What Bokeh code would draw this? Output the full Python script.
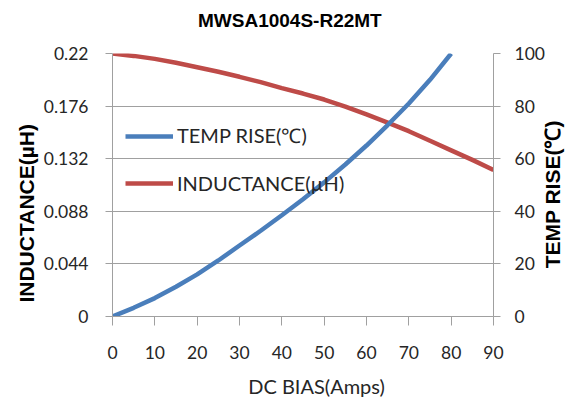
import math
from bokeh.plotting import figure
from bokeh.models import (Range1d, LinearAxis, FixedTicker, CustomJSTickFormatter,
                          Legend, LegendItem)
from bokeh.embed import file_html
from bokeh.resources import INLINE

# ---- data ----
bias_temp = [0, 5, 10, 15, 20, 25, 30, 35, 40, 45, 50, 55, 60, 65, 70, 75, 80]
temp_rise = [0, 3.3, 7, 11.3, 16, 21.3, 27, 32.6, 38.5, 44.6, 51, 57.8, 65, 72.8, 81, 90, 100]

bias_ind = [0, 5, 10, 15, 20, 25, 30, 35, 40, 45, 50, 55, 60, 65, 70, 75, 80, 85, 90]
inductance = [0.220, 0.2180, 0.2155, 0.2122, 0.2085, 0.2047, 0.2005, 0.196, 0.191,
              0.1865, 0.1815, 0.1755, 0.169, 0.1622, 0.155, 0.147, 0.139, 0.131, 0.1225]

bias_ticks = [0, 10, 20, 30, 40, 50, 60, 70, 80, 90]
ind_ticks = [0, 0.044, 0.088, 0.132, 0.176, 0.22]
temp_ticks = [0, 20, 40, 60, 80, 100]

title_text = "MWSA1004S-R22MT"
x_title = "DC  BIAS(Amps)"
left_title = "INDUCTANCE(µH)"
right_title = "TEMP RISE(℃)"
temp_label = "TEMP RISE(℃)"
ind_label = "INDUCTANCE(µH)"

# where the titles sit along their axes (layout anchors, as in the reference)
title_at = 41.9
x_title_at = 48.8
left_title_at = 0.161
right_title_at = 18.3

BLUE = "#4a7ebb"
RED = "#be4b48"
GRID = "#a0a0a0"
TXT = "#262626"
TICKFONT = "Lato"
BOLDFONT = "Liberation Sans"

p = figure(width=578, height=402, output_backend="svg", toolbar_location=None,
           x_range=Range1d(0, 90), y_range=Range1d(0, 0.22),
           min_border_left=112, min_border_right=85, min_border_top=53,
           min_border_bottom=86)
p.outline_line_color = None
p.background_fill_color = "white"
p.border_fill_color = "white"

p.extra_y_ranges = {"temp": Range1d(0, 100)}

# grids
p.xgrid.visible = False
p.ygrid.ticker = FixedTicker(ticks=ind_ticks)
p.ygrid.grid_line_color = GRID
p.ygrid.grid_line_width = 1

def style_axis(ax):
    ax.axis_line_color = GRID
    ax.major_tick_line_color = GRID
    ax.minor_tick_line_color = None
    ax.major_tick_in = 0
    ax.major_tick_out = 7
    ax.major_label_text_font = TICKFONT
    ax.major_label_text_font_size = "17.5px"
    ax.major_label_text_color = TXT

# x axis
xa = p.xaxis[0]
style_axis(xa)
xa.ticker = FixedTicker(ticks=bias_ticks)
xa.major_tick_out = 9
xa.major_label_standoff = 20

# left axis
ya = p.yaxis[0]
style_axis(ya)
ya.ticker = FixedTicker(ticks=ind_ticks)
ya.formatter = CustomJSTickFormatter(code="return String(parseFloat(tick.toFixed(3)));")
ya.major_label_standoff = 17

# right axis
ra = LinearAxis(y_range_name="temp")
style_axis(ra)
ra.ticker = FixedTicker(ticks=temp_ticks)
ra.major_label_standoff = 14
p.add_layout(ra, "right")

# chart and axis titles, drawn as single labels of outer, line-less axes
def title_axis(text, at, font, size, style, color, standoff, orientation, **kw):
    return LinearAxis(ticker=FixedTicker(ticks=[at]),
                      formatter=CustomJSTickFormatter(args=dict(t=text), code="return t;"),
                      axis_line_color=None, major_tick_line_color=None,
                      minor_tick_line_color=None, major_tick_in=0, major_tick_out=0,
                      major_label_text_font=font, major_label_text_font_size=size,
                      major_label_text_font_style=style, major_label_text_color=color,
                      major_label_standoff=standoff, major_label_orientation=orientation,
                      **kw)

p.add_layout(title_axis(title_text, title_at, BOLDFONT, "19px", "bold", "black", 23,
                        "horizontal"), "above")
p.add_layout(title_axis(x_title, x_title_at, TICKFONT, "20px", "normal", TXT, 12,
                        "horizontal"), "below")
p.add_layout(title_axis(left_title, left_title_at, BOLDFONT, "21px", "bold", "black", 14,
                        math.pi / 2), "left")
p.add_layout(title_axis(right_title, right_title_at, BOLDFONT, "21px", "bold", "black", 5,
                        math.pi / 2, y_range_name="temp"), "right")

# lines
r_ind = p.line(bias_ind, inductance, line_color=RED, line_width=4.5)
r_temp = p.line(bias_temp, temp_rise, y_range_name="temp", line_color=BLUE, line_width=4.5)

legend = Legend(items=[LegendItem(label=temp_label, renderers=[r_temp]),
                       LegendItem(label=ind_label, renderers=[r_ind])],
                location=(13, 121), padding=0, margin=0,
                border_line_alpha=0, background_fill_alpha=0,
                glyph_width=48, glyph_height=24, label_height=24,
                spacing=22, label_standoff=4,
                label_text_font=TICKFONT, label_text_font_size="20px",
                label_text_color=TXT)
p.add_layout(legend, "center")

open("out.html", "w").write(file_html(p, INLINE))
